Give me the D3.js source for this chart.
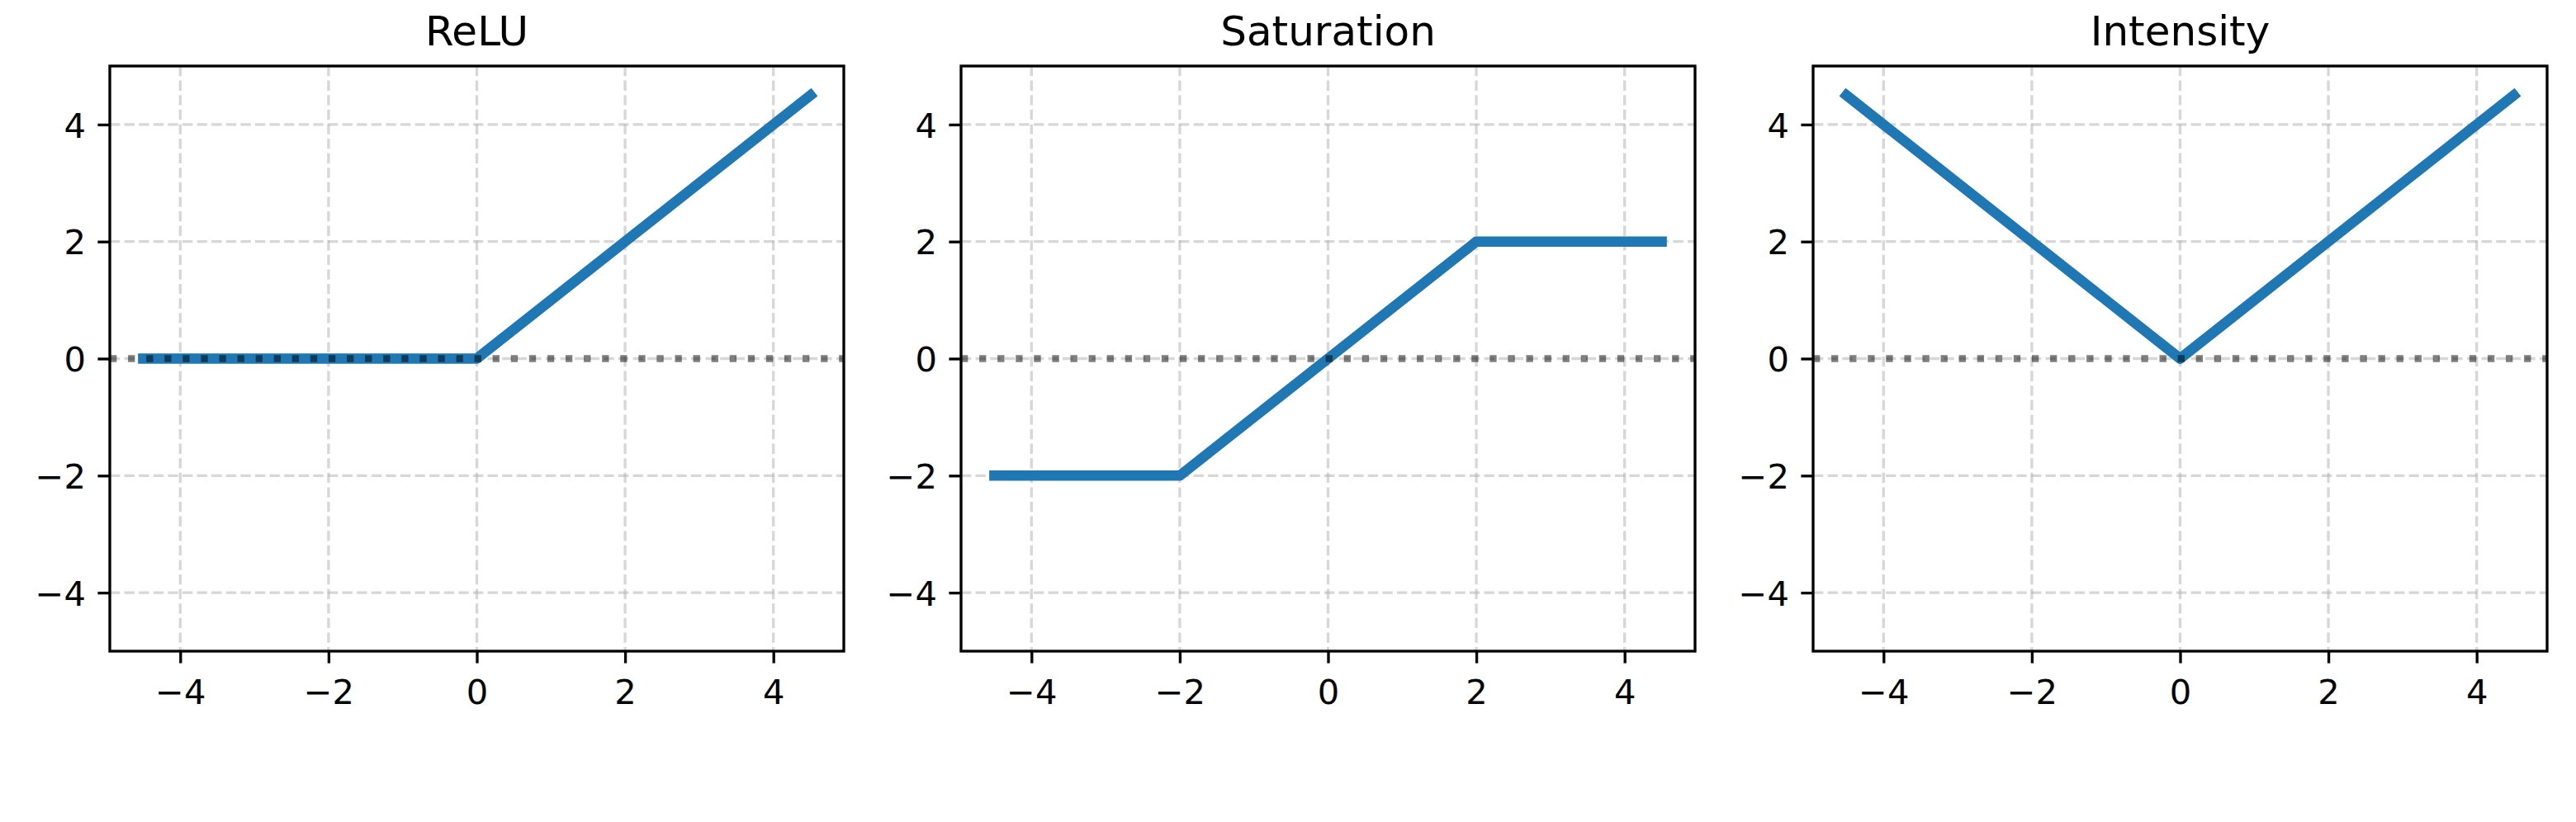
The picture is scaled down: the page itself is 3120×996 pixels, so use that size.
<!DOCTYPE html>
<html>
<head>
<meta charset="utf-8">
<script src="https://cdn.jsdelivr.net/npm/d3@7"></script>
<style>
  html, body { margin: 0; padding: 0; background: #fff; }
  svg { display: block; }
  text { font-family: "DejaVu Sans", sans-serif; fill: #000; }
</style>
</head>
<body>
<svg id="chart" width="3120" height="996"></svg>
<script>
// ---- data ----
const titles = ["ReLU", "Saturation", "Intensity"];
const xTicks = [-4, -2, 0, 2, 4];
const yTicks = [-4, -2, 0, 2, 4];
const reluX = [-4.5, 0, 4.5];
const reluY = [0, 0, 4.5];
const satX = [-4.5, -2, 2, 4.5];
const satY = [-2, -2, 2, 2];
const intX = [-4.5, 0, 4.5];
const intY = [4.5, 0, 4.5];
const xDomain = [-4.95, 4.95];
const yDomain = [-5, 5];

const seriesX = [reluX, satX, intX];
const seriesY = [reluY, satY, intY];

// ---- layout ----
const svg = d3.select("#chart");
const panelLeft = [133, 1164, 2196];
const panelW = 889;
const plotTop = 80, plotBottom = 789;
const fontSize = 41.67;
const titleSize = 50;
const spineW = 3.33;
const tickLen = 14.6;
const fmt = d => (d < 0 ? "\u2212" + Math.abs(d) : String(d));

titles.forEach((title, i) => {
  const x = d3.scaleLinear().domain(xDomain).range([panelLeft[i], panelLeft[i] + panelW]);
  const y = d3.scaleLinear().domain(yDomain).range([plotBottom, plotTop]);
  const g = svg.append("g");

  const clipId = "clip" + i;
  svg.append("clipPath").attr("id", clipId)
    .append("rect").attr("x", x.range()[0]).attr("y", plotTop)
    .attr("width", panelW).attr("height", plotBottom - plotTop);

  // grid
  const grid = g.append("g").attr("clip-path", `url(#${clipId})`);
  grid.selectAll("line.vx").data(xTicks).join("line")
    .attr("x1", d => x(d)).attr("x2", d => x(d))
    .attr("y1", plotTop).attr("y2", plotBottom)
    .attr("stroke", "#b0b0b0").attr("stroke-opacity", 0.5)
    .attr("stroke-width", spineW).attr("stroke-dasharray", "12.3,5.3");
  grid.selectAll("line.hy").data(yTicks).join("line")
    .attr("x1", x.range()[0]).attr("x2", x.range()[1])
    .attr("y1", d => y(d)).attr("y2", d => y(d))
    .attr("stroke", "#b0b0b0").attr("stroke-opacity", 0.5)
    .attr("stroke-width", spineW).attr("stroke-dasharray", "12.3,5.3");

  // data line
  const pts = seriesX[i].map((v, k) => [v, seriesY[i][k]]);
  const line = d3.line().x(d => x(d[0])).y(d => y(d[1]));
  g.append("path").datum(pts)
    .attr("d", line)
    .attr("fill", "none")
    .attr("stroke", "#1f77b4")
    .attr("stroke-width", 12.5)
    .attr("stroke-linecap", "square")
    .attr("stroke-linejoin", "round");

  // zero dotted line
  g.append("line")
    .attr("x1", x.range()[0]).attr("x2", x.range()[1])
    .attr("y1", y(0)).attr("y2", y(0))
    .attr("stroke", "#000").attr("stroke-opacity", 0.5)
    .attr("stroke-width", 8.33)
    .attr("stroke-dasharray", "8.33,13.75")
    .attr("stroke-linecap", "butt");

  // axes
  const xAxis = d3.axisBottom(x).tickValues(xTicks).tickFormat(fmt)
    .tickSize(tickLen).tickSizeOuter(0);
  const gx = g.append("g").attr("transform", `translate(0,${plotBottom})`).call(xAxis);
  gx.select(".domain").remove();
  gx.selectAll(".tick line").attr("stroke", "#000").attr("stroke-width", spineW);
  gx.selectAll(".tick text")
    .attr("y", 64).attr("dy", null)
    .style("font-family", '"DejaVu Sans", sans-serif')
    .style("font-size", fontSize + "px").attr("fill", "#000");

  const yAxis = d3.axisLeft(y).tickValues(yTicks).tickFormat(fmt)
    .tickSize(tickLen).tickSizeOuter(0);
  const gy = g.append("g").attr("transform", `translate(${x.range()[0]},0)`).call(yAxis);
  gy.select(".domain").remove();
  gy.selectAll(".tick line").attr("stroke", "#000").attr("stroke-width", spineW);
  gy.selectAll(".tick text")
    .attr("x", -29).attr("dy", null).attr("y", 15.2)
    .style("font-family", '"DejaVu Sans", sans-serif')
    .style("font-size", fontSize + "px").attr("fill", "#000");

  // spines
  g.append("rect")
    .attr("x", x.range()[0]).attr("y", plotTop)
    .attr("width", panelW).attr("height", plotBottom - plotTop)
    .attr("fill", "none").attr("stroke", "#000").attr("stroke-width", spineW);

  // title
  g.append("text")
    .attr("x", (x.range()[0] + x.range()[1]) / 2)
    .attr("y", 55)
    .attr("text-anchor", "middle")
    .style("font-size", titleSize + "px")
    .text(title);
});
</script>
</body>
</html>
